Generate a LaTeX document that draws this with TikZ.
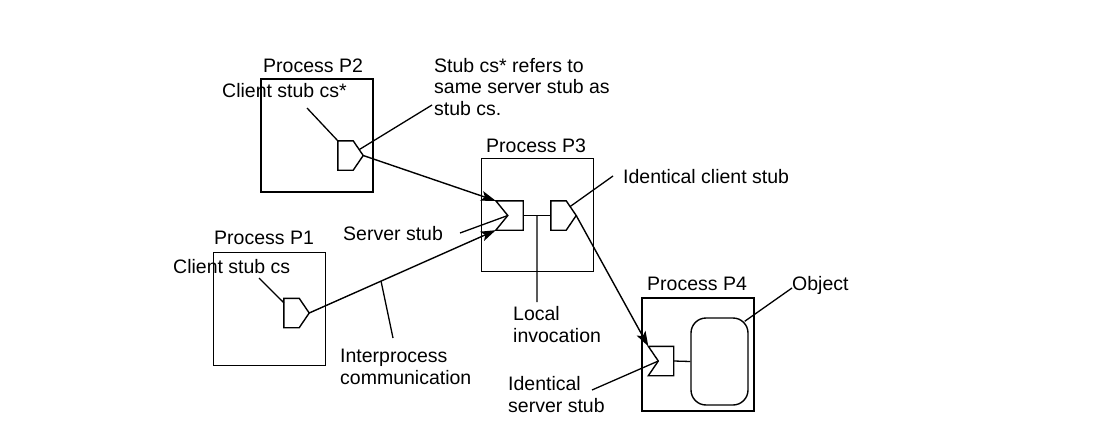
\documentclass[tikz,border=0pt]{standalone}
\usepackage{fontspec}
\setmainfont{Liberation Sans}
\usetikzlibrary{arrows.meta,calc}

\begin{document}
\begin{tikzpicture}[x=1pt,y=-1pt,
    font=\fontsize{19.5}{21.5}\selectfont,
    proc/.style={draw,line width=1.7pt,minimum width=112pt,minimum height=113pt,inner sep=0pt},
    stub/.style={minimum width=25pt,minimum height=29pt,inner sep=0pt},
    stubline/.style={line width=1.4pt,line join=miter},
    lbl/.style={inner sep=0pt,anchor=base west,align=left},
    leader/.style={line width=1.3pt},
    call/.style={line width=1.4pt,-{Stealth[length=15pt,width=10pt,inset=3.5pt]}}]
    \useasboundingbox (0,0) rectangle (1114,447);

    % processes
    \node[proc] (P2) at (317,135.5) {};
    \node[proc] (P1) at (269.5,309) {};
    \node[proc] (P3) at (537.5,215) {};
    \node[proc] (P4) at (698,354.5) {};

    \node[lbl] (P2l) at (263,72) {Process P2};
    \node[lbl] (P1l) at (214,244) {Process P1};
    \node[lbl] (P3l) at (486,152) {Process P3};
    \node[lbl] (P4l) at (647,290) {Process P4};

    % stubs
    \node[stub] (cs2) at (350.5,155.5) {};
    \node[stub] (cs1) at (296.5,313) {};
    \node[stub,minimum width=27pt] (ss3) at (509.5,215.5) {};
    \node[stub] (cs3) at (563.5,215.5) {};
    \node[stub] (ss4) at (661,361) {};
    \node[draw,line width=1.4pt,rounded corners=15pt,minimum width=57pt,minimum height=87pt] (obj) at (719.5,361.5) {};

    \foreach \s in {cs1,cs2,cs3}
        \draw[stubline] (\s.north west) -- ($(\s.north east)+(-10,0)$) -- (\s.east)
            -- ($(\s.south east)+(-10,0)$) -- (\s.south west) -- cycle;
    \foreach \s/\d in {ss3/12,ss4/10}{
        \coordinate (\s-n) at ($(\s.west)+(\d,0)$);
        \draw[stubline] (\s.north west) -- (\s.north east) -- (\s.south east)
            -- (\s.south west) -- (\s-n) -- cycle;
    }

    % calls
    \draw[call] (cs2.east) -- (ss3.north west);
    \draw[call] (cs1.east) -- (ss3.south west);
    \draw[call] (cs3.east) -- (ss4.north west);
    \draw[leader] (ss3.east) -- (cs3.west);
    \draw[leader] (ss4.east) -- (obj.west);

    % labels (multi-line ones sit on their last line)
    \node[lbl] (csA) at (222,97) {Client stub cs*};
    \node[lbl] (csB) at (173,273) {Client stub cs};
    \node[lbl] (refs) at (434,115) {Stub cs* refers to\\same server stub as\\stub cs.};
    \node[lbl] (srv) at (343,240) {Server stub};
    \node[lbl] (idc) at (623,183) {Identical client stub};
    \node[lbl] (loc) at (513,342) {Local\\invocation};
    \node[lbl] (ipc) at (340,384) {Interprocess\\communication};
    \node[lbl] (ids) at (508,412) {Identical\\server stub};
    \node[lbl] (objl) at (792,290) {Object};

    % leader ends
    \coordinate (csAe) at (307,108);
    \coordinate (csBe) at (259,278);
    \coordinate (refse) at (432,105);
    \coordinate (srve) at (460,233);
    \coordinate (idce) at (613,176);
    \coordinate (locA) at ($(ss3.east)!0.5!(cs3.west)$);
    \coordinate (loce) at (537,302);
    \coordinate (ipcA) at ($(cs1.east)!0.385!(ss3.south west)$);
    \coordinate (ipce) at (393,338);
    \coordinate (idse) at (592,390);
    \coordinate (objle) at (792,288);

    % leaders
    \draw[leader] (csAe) -- (cs2.north west);
    \draw[leader] (refse) -- ($(cs2.east)!0.4!(cs2.north east)+(-4,0)$);
    \draw[leader] (csBe) -- ($(cs1.north west)!0.15!(cs1.south west)$);
    \draw[leader] (srve) -- (ss3-n);
    \draw[leader] (idce) -- ($(cs3.east)+(-6,-9)$);
    \draw[leader] (locA) -- (loce);
    \draw[leader] (ipcA) -- (ipce);
    \draw[leader] (idse) -- (ss4-n);
    \draw[leader] (objle) -- ($(obj.north east)+(-4,4)$);
\end{tikzpicture}
\end{document}
